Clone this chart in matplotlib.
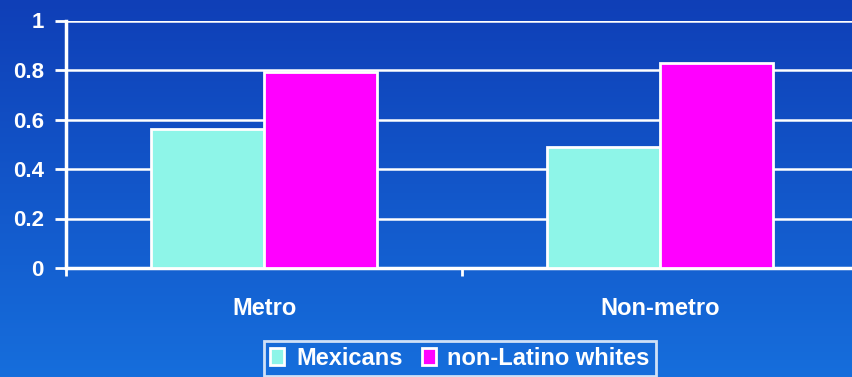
import numpy as np
import matplotlib.pyplot as plt
from matplotlib.colors import LinearSegmentedColormap
from matplotlib.patches import Patch

categories = ['Metro', 'Non-metro']
mexicans = [0.56, 0.49]
whites = [0.79, 0.83]
series_names = ['Mexicans', 'non-Latino whites']
yticks = [0, 0.2, 0.4, 0.6, 0.8, 1]

plt.rcParams['font.family'] = ['Liberation Sans', 'DejaVu Sans']
plt.rcParams['font.weight'] = 'bold'

fig = plt.figure(figsize=(8.52, 3.77), dpi=100)

# blue background gradient, darker at top
bg = fig.add_axes([0, 0, 1, 1], zorder=-10)
_grad = LinearSegmentedColormap.from_list('bg', ['#0f3fb7', '#166edc'])
bg.imshow(np.linspace(0, 1, 256).reshape(-1, 1), aspect='auto', cmap=_grad,
          extent=[0, 1, 0, 1], origin='upper')
bg.axis('off')

ax = fig.add_axes([66/852, 1 - 268/377, 792/852, 247.5/377])
ax.patch.set_alpha(0)

x = np.arange(len(categories))
w = 0.285
ax.bar(x - w/2, mexicans, w, color='#8ef5e8', edgecolor='white', linewidth=2, zorder=3)
ax.bar(x + w/2, whites, w, color='#ff00ff', edgecolor='white', linewidth=2, zorder=3)

ax.set_xlim(-0.5, 1.5)
ax.set_ylim(0, 1)
ax.set_yticks(yticks)
ax.set_yticklabels(['0', '0.2', '0.4', '0.6', '0.8', '1'])
ax.yaxis.grid(True, color='white', linewidth=1.8, zorder=0)
ax.set_axisbelow(True)

ax.set_xticks([-0.5, 0.5, 1.5])
ax.set_xticklabels([])
ax.set_xticks(x, minor=True)
ax.set_xticklabels(categories, minor=True)
ax.tick_params(axis='x', which='minor', length=0, pad=21, labelsize=17, labelcolor='white')
ax.tick_params(axis='x', which='major', length=6, width=2, color='white', direction='out')
ax.tick_params(axis='y', length=8, width=2, color='white', labelsize=16,
               labelcolor='white', pad=8)

for s in ['top', 'right']:
    ax.spines[s].set_visible(False)
for s in ['left', 'bottom']:
    ax.spines[s].set_color('white')
    ax.spines[s].set_linewidth(2.5)

handles = [Patch(facecolor='#8ef5e8', edgecolor='white', linewidth=2),
           Patch(facecolor='#ff00ff', edgecolor='white', linewidth=2)]
leg = fig.legend(handles, series_names, loc='upper center', ncol=2,
                 bbox_to_anchor=(460/852, 36/377), frameon=True, fancybox=False,
                 handlelength=0.6, handleheight=0.7, handletextpad=0.5,
                 columnspacing=0.8, borderpad=0.25, borderaxespad=0,
                 prop={'size': 17, 'weight': 'bold'})
leg.get_frame().set_facecolor('none')
leg.get_frame().set_edgecolor('white')
leg.get_frame().set_linewidth(2)
for t in leg.get_texts():
    t.set_color('white')

fig.savefig('out.png', dpi=100)
